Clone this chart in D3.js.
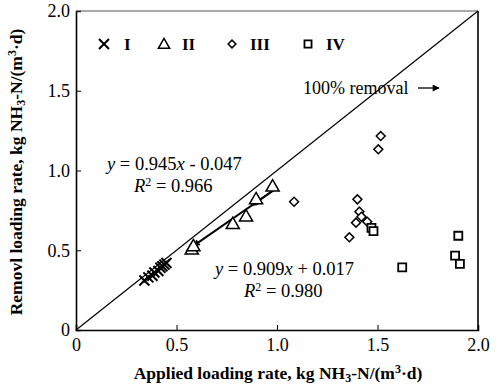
<!DOCTYPE html>
<html><head><meta charset="utf-8">
<script src="https://cdn.jsdelivr.net/npm/d3@7"></script>
<style>
html,body{margin:0;padding:0;background:#fff;}
text{font-family:"Liberation Serif","Times New Roman",serif;fill:#000;}
</style></head>
<body><svg id="c" width="504" height="387"></svg>
<script>
// ---- data ----
const xTicks = [0, 0.5, 1.0, 1.5, 2.0];
const yTicks = [0, 0.5, 1.0, 1.5, 2.0];
const xTickLabels = ["0", "0.5", "1.0", "1.5", "2.0"];
const yTickLabels = ["0", "0.5", "1.0", "1.5", "2.0"];
const seriesNames = ["I", "II", "III", "IV"];
const s1x = [0.34, 0.36, 0.38, 0.39, 0.41, 0.42, 0.43, 0.44, 0.45];
const s1y = [0.31, 0.33, 0.34, 0.36, 0.37, 0.39, 0.40, 0.41, 0.42];
const s2x = [0.576, 0.584, 0.78, 0.846, 0.896, 0.978];
const s2y = [0.50, 0.52, 0.66, 0.707, 0.815, 0.895];
const s3x = [1.085, 1.36, 1.393, 1.41, 1.42, 1.40, 1.449, 1.504, 1.516];
const s3y = [0.804, 0.581, 0.673, 0.742, 0.71, 0.819, 0.679, 1.133, 1.216];
const s4x = [1.47, 1.48, 1.623, 1.886, 1.91, 1.902];
const s4y = [0.64, 0.62, 0.393, 0.466, 0.414, 0.591];
const fitX = [0.584, 0.985];
const fitY = [0.527, 0.878];

const svg = d3.select("#c");
const L = 76, R = 478, T = 11, B = 330;
const x = d3.scaleLinear().domain([0, 2]).range([L, R]);
const y = d3.scaleLinear().domain([0, 2]).range([B, T]);

// axes (ticks inward)
const gx = svg.append("g").attr("transform", `translate(0,${B})`)
  .call(d3.axisBottom(x).tickValues(xTicks).tickSize(-5).tickPadding(8)
    .tickFormat((d,i)=>xTickLabels[i]));
const gy = svg.append("g").attr("transform", `translate(${L},0)`)
  .call(d3.axisLeft(y).tickValues(yTicks).tickSize(-5).tickPadding(6)
    .tickFormat((d,i)=>yTickLabels[i]));
[gx, gy].forEach(g => {
  g.select(".domain").attr("stroke", "#000").attr("stroke-width", 1.6);
  g.selectAll(".tick line").attr("stroke", "#000").attr("stroke-width", 1);
  g.selectAll(".tick text").style("font-family", '"Liberation Serif",serif').style("font-size", "18px").attr("fill", "#000");
});
gx.selectAll(".tick line").filter((d)=>d===0||d===2).remove();
gy.selectAll(".tick line").filter((d)=>d===0||d===2).remove();
// top & right frame
svg.append("line").attr("x1", x(0)).attr("x2", x(2)).attr("y1", y(2)).attr("y2", y(2)).attr("stroke", "#555").attr("stroke-width", 1.2);
svg.append("line").attr("x1", x(2)).attr("x2", x(2)).attr("y1", y(2)).attr("y2", y(0)).attr("stroke", "#000").attr("stroke-width", 1.6);

// 1:1 line
svg.append("line").attr("x1", x(0)).attr("y1", y(0)).attr("x2", x(2)).attr("y2", y(2))
  .attr("stroke", "#000").attr("stroke-width", 1.2);

// arrow marker
const defs = svg.append("defs");
defs.append("marker").attr("id", "ah").attr("viewBox", "0 0 10 10").attr("refX", 9).attr("refY", 5)
  .attr("markerWidth", 10).attr("markerHeight", 7).attr("markerUnits", "userSpaceOnUse").attr("orient", "auto")
  .append("path").attr("d", "M0,0 L10,5 L0,10 Z").attr("fill", "#000");

// fitted line with arrows
svg.append("line").attr("x1", x(fitX[1])).attr("y1", y(fitY[1])).attr("x2", x(fitX[0])).attr("y2", y(fitY[0]))
  .attr("stroke", "#000").attr("stroke-width", 2).attr("marker-end", "url(#ah)");
svg.append("line").attr("x1", x(fitX[1])).attr("y1", y(fitY[1]))
  .attr("x2", x(fitX[0] + (fitX[1]-fitX[0])*0.72)).attr("y2", y(fitY[0] + (fitY[1]-fitY[0])*0.72))
  .attr("stroke", "#000").attr("stroke-width", 2).attr("marker-end", "url(#ah)");

// marker shapes
function cross(g, cx, cy, s) {
  g.append("path").attr("d", `M${cx-s},${cy-s}L${cx+s},${cy+s}M${cx-s},${cy+s}L${cx+s},${cy-s}`)
    .attr("stroke", "#000").attr("stroke-width", 2).attr("fill", "none");
}
const sym = (type, size) => d3.symbol().type(type).size(size);
const g1 = svg.append("g");
s1x.forEach((v, i) => cross(g1, x(v), y(s1y[i]), 5));
svg.append("g").selectAll("path").data(s2x).join("path")
  .attr("transform", (d,i)=>`translate(${x(d)},${y(s2y[i])})`)
  .attr("d", sym(d3.symbolTriangle, 75)).attr("fill", "#fff").attr("stroke", "#000").attr("stroke-width", 1.5);
svg.append("g").selectAll("path").data(s3x).join("path")
  .attr("transform", (d,i)=>`translate(${x(d)},${y(s3y[i])}) rotate(45)`)
  .attr("d", sym(d3.symbolSquare, 40)).attr("fill", "#fff").attr("stroke", "#000").attr("stroke-width", 1.5);
svg.append("g").selectAll("path").data(s4x).join("path")
  .attr("transform", (d,i)=>`translate(${x(d)},${y(s4y[i])})`)
  .attr("d", sym(d3.symbolSquare, 64)).attr("fill", "#fff").attr("stroke", "#000").attr("stroke-width", 1.8);

// legend
const lg = svg.append("g");
const legX = [104, 164, 232, 308];
const legTX = [124, 182, 250, 326];
cross(lg, legX[0], 44, 5);
lg.append("path").attr("transform", `translate(${legX[1]},45)`).attr("d", sym(d3.symbolTriangle, 55))
  .attr("fill", "#fff").attr("stroke", "#000").attr("stroke-width", 1.5);
lg.append("path").attr("transform", `translate(${legX[2]},44) rotate(45)`).attr("d", sym(d3.symbolSquare, 30))
  .attr("fill", "#fff").attr("stroke", "#000").attr("stroke-width", 1.5);
lg.append("path").attr("transform", `translate(${legX[3]},44)`).attr("d", sym(d3.symbolSquare, 50))
  .attr("fill", "#fff").attr("stroke", "#000").attr("stroke-width", 1.8);
seriesNames.forEach((n, i) => {
  lg.append("text").attr("x", legTX[i]).attr("y", 50).style("font-size", "17px").style("font-weight", "bold").text(n);
});

// annotations
svg.append("text").attr("x", 303).attr("y", 94).style("font-size", "18px").text("100% removal");
svg.append("line").attr("x1", 418).attr("y1", 88).attr("x2", 439).attr("y2", 88)
  .attr("stroke", "#000").attr("stroke-width", 1.3).attr("marker-end", "url(#ah)");

function eq(xx, yy, a, b) {
  const t = svg.append("text").attr("x", xx).attr("y", yy).style("font-size", "18.5px");
  t.append("tspan").style("font-style", "italic").text("y");
  t.append("tspan").text(" = " + a);
  t.append("tspan").style("font-style", "italic").text("x");
  t.append("tspan").text(" " + b);
}
function r2(xx, yy, v) {
  const t = svg.append("text").attr("x", xx).attr("y", yy).style("font-size", "18.5px");
  t.append("tspan").style("font-style", "italic").text("R");
  t.append("tspan").attr("dy", -6).style("font-size", "12px").text("2");
  t.append("tspan").attr("dy", 6).text(" = " + v);
}
eq(107, 170, "0.945", "- 0.047");
r2(134, 192, "0.966");
eq(215, 275, "0.909", "+ 0.017");
r2(244, 297, "0.980");

// axis titles
const xt = svg.append("text").attr("x", 278).attr("y", 379).attr("text-anchor", "middle")
  .style("font-size", "17.5px").style("font-weight", "bold");
xt.append("tspan").text("Applied loading rate, kg NH");
xt.append("tspan").attr("dy", 3).style("font-size", "12px").text("3");
xt.append("tspan").attr("dy", -3).text("-N/(m");
xt.append("tspan").attr("dy", -6).style("font-size", "12px").text("3");
xt.append("tspan").attr("dy", 6).text("\u00b7d)");
const yt = svg.append("text").attr("transform", "translate(22,172) rotate(-90)").attr("text-anchor", "middle")
  .style("font-size", "17.5px").style("font-weight", "bold");
yt.append("tspan").text("Removl loading rate, kg NH");
yt.append("tspan").attr("dy", 3).style("font-size", "12px").text("3");
yt.append("tspan").attr("dy", -3).text("-N/(m");
yt.append("tspan").attr("dy", -6).style("font-size", "12px").text("3");
yt.append("tspan").attr("dy", 6).text("\u00b7d)");
</script></body></html>
